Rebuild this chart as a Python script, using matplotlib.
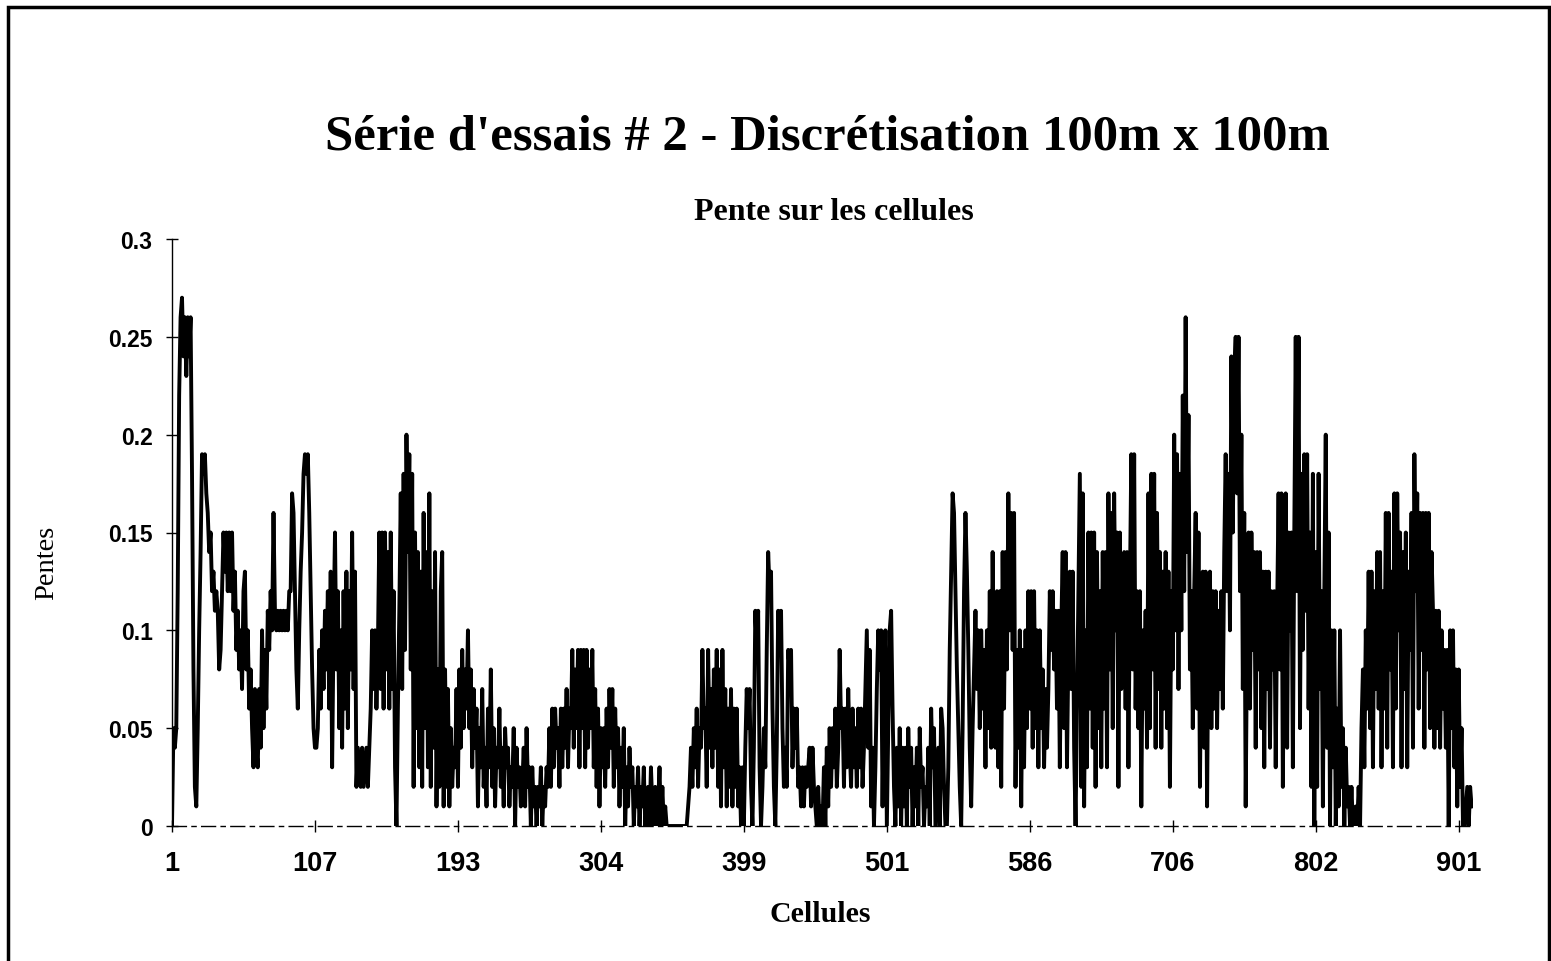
import numpy as np
import matplotlib.pyplot as plt
from matplotlib.patches import Rectangle

# pente par cellule, en centièmes
pentes_pct = [
    0, 5, 4, 5, 12, 22, 26, 27, 24, 26, 23, 26, 24, 26, 18, 8, 2, 1, 5, 10,
    14, 19, 18, 19, 17, 16, 14, 15, 12, 13, 11, 12, 11, 8, 9, 12, 15, 13, 15, 12,
    15, 12, 15, 11, 13, 9, 11, 8, 10, 7, 12, 13, 8, 10, 6, 8, 5, 3, 7, 4,
    3, 7, 4, 10, 5, 9, 6, 11, 9, 12, 10, 16, 11, 10, 11, 10, 11, 10, 11, 10,
    11, 10, 12, 12, 17, 16, 12, 8, 6, 10, 13, 15, 18, 19, 18, 19, 16, 12, 8, 5,
    4, 4, 5, 9, 6, 10, 7, 11, 8, 12, 6, 13, 3, 10, 15, 8, 12, 5, 10, 4,
    12, 6, 13, 5, 12, 8, 15, 7, 13, 2, 4, 3, 2, 4, 2, 3, 4, 2, 4, 6,
    10, 7, 10, 6, 9, 15, 7, 15, 6, 15, 8, 14, 6, 15, 7, 12, 3, 0, 6, 11,
    17, 7, 18, 9, 20, 14, 19, 8, 18, 2, 15, 5, 14, 3, 13, 2, 16, 5, 14, 3,
    17, 2, 12, 4, 14, 1, 8, 2, 12, 14, 1, 8, 2, 7, 1, 5, 2, 4, 3, 7,
    2, 8, 4, 9, 5, 8, 6, 10, 5, 8, 3, 7, 4, 6, 1, 5, 3, 7, 2, 4,
    1, 6, 3, 8, 2, 5, 1, 4, 3, 6, 2, 4, 1, 5, 3, 4, 1, 3, 2, 5,
    0, 4, 2, 3, 1, 2, 4, 1, 5, 2, 3, 0, 3, 1, 2, 0, 2, 1, 3, 0,
    2, 1, 3, 2, 5, 2, 6, 3, 6, 4, 5, 2, 6, 3, 6, 4, 7, 3, 6, 5,
    9, 4, 8, 5, 9, 3, 9, 5, 9, 3, 9, 4, 8, 5, 9, 3, 7, 2, 6, 1,
    5, 3, 5, 2, 6, 3, 7, 4, 7, 2, 6, 3, 5, 1, 4, 2, 5, 0, 3, 1,
    4, 2, 3, 0, 2, 1, 3, 0, 2, 1, 3, 0, 1, 2, 0, 3, 1, 0, 2, 0,
    1, 3, 0, 2, 0, 1, 0, 0, 0, 0, 0, 0, 0, 0, 0, 0, 0, 0, 0, 0,
    0, 1, 2, 4, 2, 5, 3, 6, 2, 5, 4, 9, 5, 6, 2, 9, 4, 7, 3, 8,
    4, 9, 2, 8, 1, 9, 3, 7, 1, 6, 2, 7, 1, 6, 2, 6, 1, 3, 0, 3,
    0, 4, 7, 5, 7, 2, 0, 4, 11, 9, 11, 3, 0, 2, 5, 3, 9, 14, 12, 13,
    6, 2, 0, 4, 11, 9, 11, 5, 2, 4, 2, 9, 8, 9, 3, 6, 4, 6, 2, 3,
    1, 3, 1, 3, 2, 3, 4, 1, 4, 2, 1, 0, 2, 0, 1, 0, 3, 0, 4, 1,
    5, 2, 5, 3, 6, 2, 4, 9, 5, 6, 2, 6, 3, 7, 4, 2, 6, 3, 5, 2,
    6, 3, 6, 2, 4, 7, 10, 4, 9, 1, 4, 0, 3, 7, 10, 8, 10, 1, 7, 10,
    0, 5, 10, 11, 6, 2, 0, 4, 1, 5, 0, 4, 1, 4, 0, 5, 2, 4, 0, 3,
    1, 4, 0, 5, 2, 3, 0, 2, 1, 4, 0, 6, 3, 5, 0, 2, 4, 0, 6, 5,
    2, 0, 0, 3, 9, 13, 17, 16, 12, 8, 5, 2, 0, 5, 12, 16, 13, 9, 4, 1,
    5, 8, 11, 7, 10, 5, 10, 6, 9, 3, 10, 5, 12, 4, 14, 7, 4, 12, 3, 12,
    2, 14, 6, 14, 8, 17, 10, 16, 9, 16, 2, 9, 4, 10, 1, 9, 3, 10, 5, 12,
    6, 12, 4, 12, 5, 10, 3, 10, 5, 8, 3, 7, 4, 7, 12, 9, 12, 8, 11, 6,
    11, 3, 10, 14, 5, 14, 3, 9, 13, 7, 13, 4, 0, 6, 12, 18, 2, 17, 1, 10,
    3, 15, 6, 15, 4, 15, 2, 14, 5, 12, 3, 14, 6, 14, 3, 17, 8, 16, 5, 17,
    10, 15, 2, 15, 7, 12, 14, 6, 14, 3, 12, 19, 8, 19, 6, 12, 5, 12, 1, 10,
    6, 11, 4, 17, 5, 18, 8, 18, 4, 16, 7, 14, 4, 13, 6, 14, 5, 13, 2, 12,
    8, 20, 10, 19, 7, 18, 10, 22, 12, 26, 14, 21, 8, 12, 5, 12, 16, 6, 15, 2,
    10, 13, 4, 13, 1, 11, 13, 5, 12, 6, 12, 5, 11, 7, 12, 6, 14, 19, 12, 18,
    10, 24, 15, 23, 25, 17, 25, 12, 20, 7, 16, 1, 10, 15, 6, 15, 9, 14, 4, 14,
    8, 14, 5, 13, 3, 13, 7, 13, 4, 12, 8, 12, 3, 11, 17, 8, 17, 2, 12, 17,
    4, 15, 10, 15, 3, 15, 25, 12, 25, 5, 18, 9, 19, 11, 19, 6, 15, 2, 18, 0,
    14, 2, 18, 7, 12, 1, 12, 20, 4, 15, 0, 10, 3, 10, 0, 6, 1, 10, 2, 5,
    0, 4, 1, 2, 0, 2, 0, 0, 1, 0, 2, 0, 5, 8, 3, 10, 6, 13, 5, 13,
    3, 12, 7, 14, 6, 14, 3, 12, 6, 16, 4, 16, 8, 13, 3, 17, 6, 17, 10, 15,
    3, 14, 7, 15, 3, 13, 9, 16, 4, 19, 12, 17, 6, 16, 9, 16, 4, 16, 8, 16,
    5, 14, 11, 4, 11, 5, 11, 4, 10, 6, 9, 4, 9, 0, 10, 5, 10, 3, 8, 1,
    8, 2, 5, 0, 0, 1, 2, 0, 2, 1,
]

xtick_pos = [0, 100, 200, 300, 400, 500, 600, 700, 800, 900]
xtick_labels = ['1', '107', '193', '304', '399', '501', '586', '706', '802', '901']
ytick_vals = [0, 0.05, 0.1, 0.15, 0.2, 0.25, 0.3]
ytick_labels = ['0', '0.05', '0.1', '0.15', '0.2', '0.25', '0.3']

pentes = np.array(pentes_pct) / 100.0
cellules = np.arange(len(pentes))

W, H = 1551, 962
fig = plt.figure(figsize=(W / 100, H / 100), dpi=100)

# cadre autour du graphique
fig.patches.append(Rectangle((8 / W, -0.05), (1549 - 8) / W, 1 - 8 / H + 0.05,
                             transform=fig.transFigure, fill=False,
                             edgecolor='black', lw=2.5))

ax = fig.add_axes([172 / W, 1 - 827 / H, (1473 - 172) / W, (827 - 240) / H])
ax.plot(cellules, pentes, color='black', lw=2.8)

ax.set_xlim(0, 910)
ax.set_ylim(0, 0.3)
for s in ['top', 'right']:
    ax.spines[s].set_visible(False)
ax.spines['left'].set_linewidth(1.0)
ax.spines['bottom'].set_linewidth(1.0)
ax.spines['bottom'].set_linestyle((0, (10, 4, 3, 4)))

ax.set_xticks(xtick_pos)
ax.set_xticklabels(xtick_labels)
ax.set_yticks(ytick_vals)
ax.set_yticklabels(ytick_labels)
ax.tick_params(axis='both', direction='inout', length=8, width=1.0)
ax.tick_params(axis='x', pad=13, labelsize=19.5)
ax.tick_params(axis='y', pad=10, labelsize=16.5)
for lab in ax.get_xticklabels() + ax.get_yticklabels():
    lab.set_fontfamily('Liberation Sans')
    lab.set_fontweight('bold')

fig.text(827 / W, 1 - 138 / H, "Série d'essais # 2 - Discrétisation 100m x 100m",
         ha='center', va='center', fontsize=36.5, fontweight='bold',
         fontfamily='Liberation Serif')
fig.text(834 / W, 1 - 212 / H, 'Pente sur les cellules',
         ha='center', va='center', fontsize=23, fontweight='bold',
         fontfamily='Liberation Serif')
fig.text(820 / W, 1 - 915 / H, 'Cellules',
         ha='center', va='center', fontsize=21.5, fontweight='bold',
         fontfamily='Liberation Serif')
fig.text(47 / W, 1 - 563 / H, 'Pentes', rotation=90,
         ha='center', va='center', fontsize=20.5,
         fontfamily='Liberation Serif')

fig.savefig('out.png', dpi=100)
